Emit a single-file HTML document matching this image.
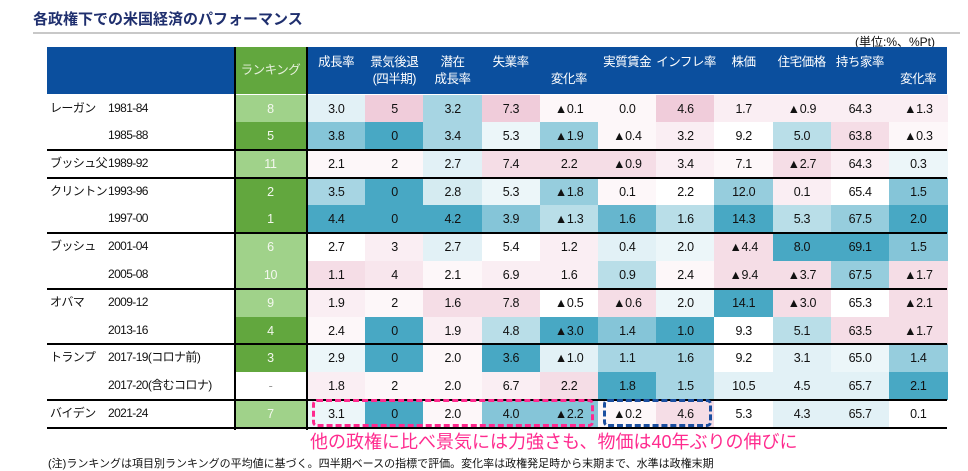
<!DOCTYPE html>
<html><head><meta charset="utf-8">
<style>
body{margin:0;width:968px;height:459px;overflow:hidden;background:#fff;font-family:"Liberation Sans","Noto Sans CJK JP",sans-serif;position:relative}
.a{position:absolute}
.c{position:absolute;display:flex;align-items:center;justify-content:center;font-size:12.5px;color:#111;letter-spacing:-0.3px}
.h{position:absolute;color:#fff;font-size:12.5px;text-align:center;line-height:17px;white-space:nowrap;letter-spacing:-0.5px}
.lbl{position:absolute;font-size:12px;color:#111;line-height:16px;letter-spacing:-0.6px;white-space:nowrap}
</style></head><body>
<div class="a" style="left:33px;top:8px;font-size:15px;font-weight:bold;color:#1f2f6e">各政権下での米国経済のパフォーマンス</div>
<div class="a" style="left:33px;top:32px;width:927px;height:2px;background:#c8c8c8"></div>
<div class="a" style="left:855px;top:33px;font-size:12px;color:#111">(単位:%、%Pt)</div>
<div class="a" style="left:47px;top:47px;width:900px;height:47px;background:#0b4f9e"></div>
<div class="a" style="left:234px;top:47px;width:73px;height:47px;background:#62a73e"></div>
<div class="h" style="left:234px;top:62px;width:73px;color:#e6f0dc">ランキング</div>
<div id="tbl"></div>
<div class="a" style="left:312px;top:399px;width:282px;height:28px;border:3px dashed #ff2a8e;border-radius:5px;box-sizing:border-box"></div>
<div class="a" style="left:603px;top:399px;width:109px;height:28px;border:3px dashed #1b4fa0;border-radius:5px;box-sizing:border-box"></div>
<div class="a" style="left:310px;top:428px;font-size:18px;color:#ff2a8e;white-space:nowrap">他の政権に比べ景気には力強さも、物価は40年ぶりの伸びに</div>
<div class="a" style="left:48px;top:455px;font-size:11px;color:#111;white-space:nowrap">(注)ランキングは項目別ランキングの平均値に基づく。四半期ベースの指標で評価。変化率は政権発足時から末期まで、水準は政権末期</div>
<script>
const headers=[["成長率",""],["景気後退","(四半期)"],["潜在","成長率"],["失業率",""],["","変化率"],["実質賃金",""],["インフレ率",""],["株価",""],["住宅価格",""],["持ち家率",""],["","変化率"]];
const admins=["レーガン","","ブッシュ父","クリントン","","ブッシュ","","オバマ","","トランプ","","バイデン"];
const periods=["1981-84","1985-88","1989-92","1993-96","1997-00","2001-04","2005-08","2009-12","2013-16","2017-19(コロナ前)","2017-20(含むコロナ)","2021-24"];
const ranks=["8","5","11","2","1","6","10","9","4","3","-","7"];
const values=[
["3.0","5","3.2","7.3","▲0.1","0.0","4.6","1.7","▲0.9","64.3","▲1.3"],
["3.8","0","3.4","5.3","▲1.9","▲0.4","3.2","9.2","5.0","63.8","▲0.3"],
["2.1","2","2.7","7.4","2.2","▲0.9","3.4","7.1","▲2.7","64.3","0.3"],
["3.5","0","2.8","5.3","▲1.8","0.1","2.2","12.0","0.1","65.4","1.5"],
["4.4","0","4.2","3.9","▲1.3","1.6","1.6","14.3","5.3","67.5","2.0"],
["2.7","3","2.7","5.4","1.2","0.4","2.0","▲4.4","8.0","69.1","1.5"],
["1.1","4","2.1","6.9","1.6","0.9","2.4","▲9.4","▲3.7","67.5","▲1.7"],
["1.9","2","1.6","7.8","▲0.5","▲0.6","2.0","14.1","▲3.0","65.3","▲2.1"],
["2.4","0","1.9","4.8","▲3.0","1.4","1.0","9.3","5.1","63.5","▲1.7"],
["2.9","0","2.0","3.6","▲1.0","1.1","1.6","9.2","3.1","65.0","1.4"],
["1.8","2","2.0","6.7","2.2","1.8","1.5","10.5","4.5","65.7","2.1"],
["3.1","0","2.0","4.0","▲2.2","▲0.2","4.6","5.3","4.3","65.7","0.1"]];
const shade=[
[-0.5,3,-2,3,0.5,0.5,3,1,1,1,1],
[-3,-5,-2,-0.3,-2.5,0.5,1,0,-1.5,2,0.5],
[0.5,0.5,-0.5,2,2,2,1,0.5,2,1,-0.3],
[-2,-5,-0.8,-0.3,-2.5,0.5,0,-2.5,1,0,-3],
[-5,-5,-5,-3,-1.5,-4,-1.5,-5,-1.5,-2.5,-5],
[0,1,-0.5,0,1,-0.5,-0.3,2,-5,-5,-3],
[2,1.5,0.5,1,1,-1.5,0.5,2,2,-2.5,2],
[1,0.5,2,2,0,2,-0.3,-5,2,0,2],
[0.5,-5,1,-1.5,-5,-3,-5,0,-1.5,2,2],
[-0.3,-5,0.5,-5,-0.5,-2,-2,0,-0.5,-0.3,-2.5],
[1,0.5,0.5,1,2,-5,-2,-0.5,-0.5,-0.5,-5],
[-0.3,-5,0.5,-3,-3,0.5,2,0,-0.5,-0.5,0]];
const rankDark=[0,1,0,1,1,0,0,0,1,1,2,0];
const rowTops=[95,122,150,178,205,233,261,289,317,344,372,400,428];
const groupLines=[150,178,233,289,344,400,428];
const X0=307,CW=58.2;
function colX(j){return X0+j*CW;}
function col(l){
  if(l===0)return"#ffffff";
  if(l<0){const t=Math.min(1,-l/5);const a=[255,255,255],b=[72,168,196];return"rgb("+a.map((v,i)=>Math.round(v+(b[i]-v)*Math.pow(t,0.8))).join(",")+")";}
  const t=Math.min(1,l/3);const a=[255,255,255],b=[240,204,218];return"rgb("+a.map((v,i)=>Math.round(v+(b[i]-v)*t)).join(",")+")";
}
const T=document.getElementById('tbl');
headers.forEach((h,j)=>{
  const d=document.createElement('div');d.className='h';
  d.style.left=colX(j)+'px';d.style.width=CW+'px';d.style.top='54px';
  d.innerHTML=h[0]+'<br>'+h[1];
  
  
  T.appendChild(d);
});
periods.forEach((p,i)=>{
  const y=rowTops[i],h=rowTops[i+1]-y;
  if(admins[i]){const a=document.createElement('div');a.className='lbl';a.textContent=admins[i];a.style.left='50px';a.style.top=(y+h/2-9)+'px';
    
    
    T.appendChild(a);}
  const pl=document.createElement('div');pl.className='lbl';pl.textContent=p;pl.style.left='108px';pl.style.top=(y+h/2-9)+'px';
  
  
  T.appendChild(pl);
  const r=document.createElement('div');r.className='c';r.textContent=ranks[i];
  r.style.cssText+=`left:234px;top:${y}px;width:73px;height:${h}px;color:${rankDark[i]==2?'#999':'#f4f8ef'};background:${rankDark[i]==1?'#62a73e':rankDark[i]==0?'#a0d28a':'#fff'}`;
  
  
  T.appendChild(r);
  values[i].forEach((v,j)=>{
    const c=document.createElement('div');c.className='c';c.textContent=v;
    c.style.left=colX(j)+'px';c.style.top=y+'px';c.style.width=(CW+0.5)+'px';c.style.height=h+'px';c.style.background=col(shade[i][j]);
    
    
    T.appendChild(c);
  });
});
groupLines.forEach((y,k)=>{
  const l=document.createElement('div');l.className='a';
  l.style.cssText=`left:47px;top:${y-1}px;width:900px;height:${k==groupLines.length-1?2:1.5}px;background:#000`;
  
  
  T.appendChild(l);
});
[234,306].forEach(x=>{
  const l=document.createElement('div');l.className='a';
  l.style.cssText=`left:${x}px;top:47px;width:1.5px;height:383px;background:#000`;
  
  
  T.appendChild(l);
});
</script>
</body></html>
